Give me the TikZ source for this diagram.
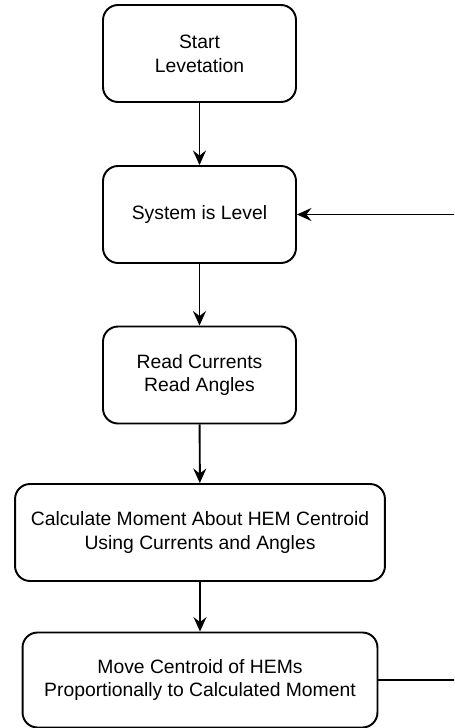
\documentclass[tikz,border=0pt]{standalone}
\usepackage{fontspec}
\setmainfont{Liberation Sans}
\usetikzlibrary{arrows.meta}
\begin{document}
\begin{tikzpicture}[x=0.02cm,y=-0.02cm,line width=1.1pt]
        % Styles
        \tikzstyle{stepbox}=[draw,rounded corners=0.3cm,align=center,inner sep=0pt,minimum height=1.94cm,font=\fontsize{11}{13.6}\selectfont]
        \tikzstyle{flow}=[-{Stealth[length=2.9mm,width=2.6mm,inset=1mm]}]
        %frame
        \useasboundingbox (0,0) rectangle (454,728);
        \clip (0,0) rectangle (454,728);
        %boxes
        \node[stepbox,minimum width=3.86cm] (start) at (199.5,53.5) {Start\\Levetation};
        \node[stepbox,minimum width=3.86cm] (level) at (199.5,214.5) {System is Level};
        \node[stepbox,minimum width=3.86cm] (read) at (199.5,375) {Read Currents\\Read Angles};
        \node[stepbox,minimum width=7.4cm] (calc) at (200,532.5) {Calculate Moment About HEM Centroid\\Using Currents and Angles};
        \node[stepbox,minimum width=7.1cm,minimum height=1.9cm] (move) at (200,680) {Move Centroid of HEMs\\Proportionally to Calculated Moment};
        %arrows
        \draw[flow] (start) -- (level);
        \draw[flow] (level) -- (read);
        \draw[flow] (read) -- (calc);
        \draw[flow] (calc) -- (move);
        %loop back
        \coordinate (turn) at (470,680);
        \draw[flow] (move.east) -- (turn) |- (level.east);
\end{tikzpicture}
\end{document}
